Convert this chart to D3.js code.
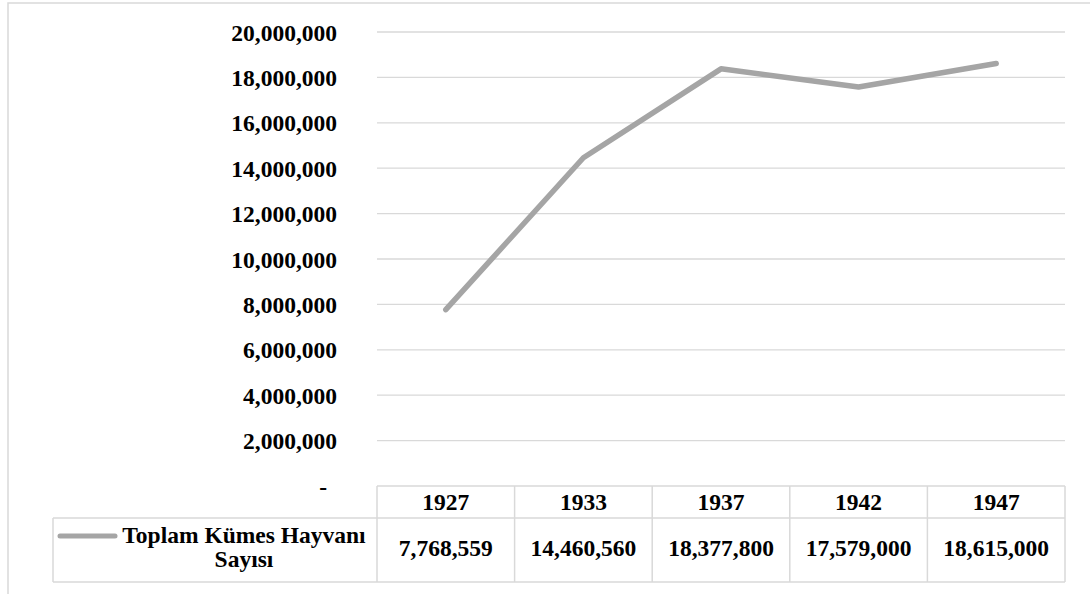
<!DOCTYPE html>
<html>
<head>
<meta charset="utf-8">
<script src="https://cdn.jsdelivr.net/npm/d3@7"></script>
<style>
  html, body { margin: 0; padding: 0; background: #fff; }
  svg { display: block; }
  text { font-family: "Liberation Serif", "Times New Roman", serif; font-weight: bold; fill: #000; }
</style>
</head>
<body>
<svg id="chart" width="1090" height="594"></svg>
<script>
const years = ["1927", "1933", "1937", "1942", "1947"];
const values = [7768559, 14460560, 18377800, 17579000, 18615000];
const seriesName = ["Toplam Kümes Hayvanı", "Sayısı"];
const yTicks = [0, 2000000, 4000000, 6000000, 8000000, 10000000, 12000000, 14000000, 16000000, 18000000, 20000000];

(function () {
const svg = d3.select("#chart");
const W = 1090, H = 594;
const pLeft = 377, pRight = 1065, pTop = 32, pBottom = 486;
const rowH1 = 32, rowH2 = 64;
const legendLeft = 53;
const gridColor = "#d9d9d9";
const lineColor = "#a5a5a5";
const fs = 23.5;

// outer border (chart area)
svg.append("rect").attr("x", 8).attr("y", 3).attr("width", W + 20).attr("height", H + 20)
  .attr("fill", "none").attr("stroke", gridColor).attr("stroke-width", 1.5);

const x = d3.scaleBand().domain(years).range([pLeft, pRight]).padding(0);
const y = d3.scaleLinear().domain([0, 20000000]).range([pBottom, pTop]);

const fmt = d3.format(",");

// gridlines
svg.append("g").selectAll("line").data(yTicks.filter(d => d > 0)).join("line")
  .attr("x1", pLeft).attr("x2", pRight)
  .attr("y1", d => y(d)).attr("y2", d => y(d))
  .attr("stroke", gridColor).attr("stroke-width", 1.3);

// y axis labels
const yAxis = d3.axisLeft(y).tickValues(yTicks).tickSize(0).tickPadding(0)
  .tickFormat(d => d === 0 ? "-" : fmt(d));
const gy = svg.append("g").attr("transform", `translate(337,0)`).call(yAxis);
gy.select(".domain").remove();
gy.selectAll("text")
  .attr("font-family", "'Liberation Serif', 'Times New Roman', serif")
  .attr("font-weight", "bold")
  .attr("font-size", fs)
  .attr("fill", "#000")
  .attr("dy", "0.34em")
  .attr("x", d => d === 0 ? -10 : 0);

// data table
const tRow1 = pBottom, tRow2 = pBottom + rowH1, tEnd = pBottom + rowH1 + rowH2;
const tg = svg.append("g");
tg.append("line").attr("x1", pLeft).attr("x2", pRight).attr("y1", tRow1).attr("y2", tRow1)
  .attr("stroke", gridColor).attr("stroke-width", 1.5);
tg.append("line").attr("x1", legendLeft).attr("x2", pRight).attr("y1", tRow2).attr("y2", tRow2)
  .attr("stroke", gridColor).attr("stroke-width", 1.5);
tg.append("line").attr("x1", legendLeft).attr("x2", pRight).attr("y1", tEnd).attr("y2", tEnd)
  .attr("stroke", gridColor).attr("stroke-width", 1.5);
tg.append("line").attr("x1", legendLeft).attr("x2", legendLeft).attr("y1", tRow2).attr("y2", tEnd)
  .attr("stroke", gridColor).attr("stroke-width", 1.5);
const dividers = years.map(d => x(d)).concat([pRight]);
tg.selectAll("line.div").data(dividers).join("line").attr("class", "div")
  .attr("x1", d => d).attr("x2", d => d).attr("y1", tRow1).attr("y2", tEnd)
  .attr("stroke", gridColor).attr("stroke-width", 1.5);

// header years
tg.selectAll("text.yr").data(years).join("text").attr("class", "yr")
  .attr("x", d => x(d) + x.bandwidth() / 2).attr("y", tRow1 + rowH1 / 2 + 8)
  .attr("text-anchor", "middle").attr("font-size", fs).text(d => d);

// values
tg.selectAll("text.val").data(values).join("text").attr("class", "val")
  .attr("x", (d, i) => x(years[i]) + x.bandwidth() / 2).attr("y", tRow2 + rowH2 / 2 + 6)
  .attr("text-anchor", "middle").attr("font-size", fs).text(d => fmt(d));

// legend key
tg.append("line").attr("x1", 60).attr("x2", 115).attr("y1", 536).attr("y2", 536)
  .attr("stroke", lineColor).attr("stroke-width", 5).attr("stroke-linecap", "round");
tg.append("text").attr("x", 244).attr("y", 543).attr("text-anchor", "middle")
  .attr("font-size", fs).text(seriesName[0]);
tg.append("text").attr("x", 244).attr("y", 567).attr("text-anchor", "middle")
  .attr("font-size", fs).text(seriesName[1]);

// line
const line = d3.line()
  .x((d, i) => x(years[i]) + x.bandwidth() / 2)
  .y(d => y(d));
svg.append("path").datum(values)
  .attr("d", line)
  .attr("fill", "none").attr("stroke", lineColor).attr("stroke-width", 5.5)
  .attr("stroke-linecap", "round").attr("stroke-linejoin", "round");
})();
</script>
</body>
</html>
